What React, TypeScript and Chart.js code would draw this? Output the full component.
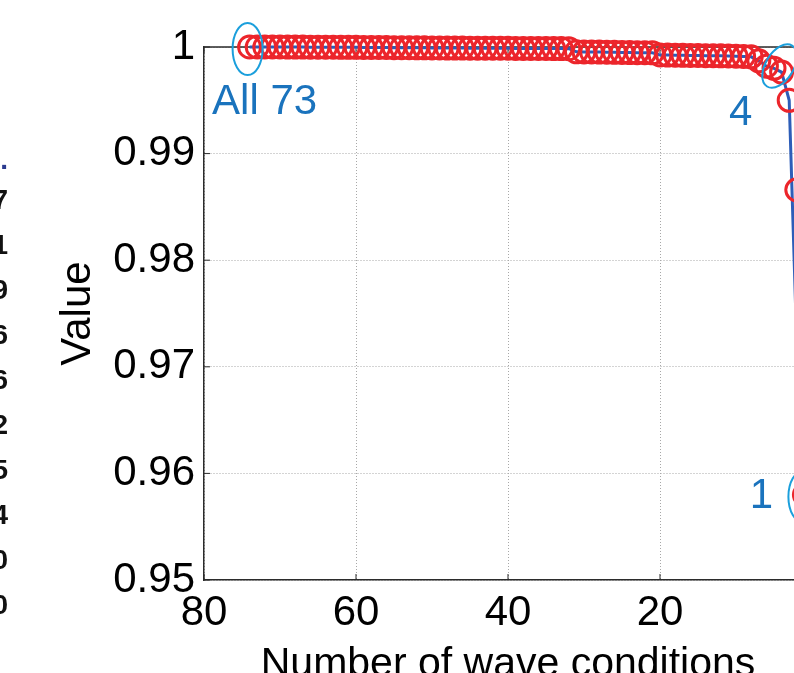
import React, { useEffect, useRef } from 'react';
import { Chart, registerables } from 'chart.js';

Chart.register(...registerables);

// ---------------- data ----------------
const waveConditions = [
  74, 73, 72, 71, 70, 69, 68, 67, 66, 65, 64, 63, 62, 61, 60, 59, 58, 57, 56, 55,
  54, 53, 52, 51, 50, 49, 48, 47, 46, 45, 44, 43, 42, 41, 40, 39, 38, 37, 36, 35,
  34, 33, 32, 31, 30, 29, 28, 27, 26, 25, 24, 23, 22, 21, 20, 19, 18, 17, 16, 15,
  14, 13, 12, 11, 10, 9, 8, 7, 6, 5, 4, 3, 2, 1,
];

const circleValues = [
  1.0, 1.0, 1.0, 1.0, 1.0, 0.99999, 0.99999, 0.99999, 0.99998, 0.99998,
  0.99998, 0.99998, 0.99997, 0.99997, 0.99997, 0.99996, 0.99996, 0.99995, 0.99995, 0.99994,
  0.99993, 0.99993, 0.99992, 0.99992, 0.99991, 0.99991, 0.9999, 0.9999, 0.9999, 0.99989,
  0.99989, 0.99989, 0.99988, 0.99988, 0.99988, 0.99987, 0.99987, 0.99987, 0.99986, 0.99986,
  0.99985, 0.99985, 0.99984, 0.99955, 0.99954, 0.99953, 0.99952, 0.99951, 0.9995, 0.99949,
  0.99948, 0.99947, 0.99946, 0.99945, 0.99925, 0.99924, 0.99923, 0.99922, 0.99921, 0.9992,
  0.99919, 0.99918, 0.99917, 0.99916, 0.99914, 0.99912, 0.99908, 0.9987, 0.9982, 0.998,
  0.99765, 0.995, 0.9866, 0.958,
];

const lineValues = [
  1.0, 1.0, 1.0, 1.0, 1.0, 0.99999, 0.99999, 0.99999, 0.99998, 0.99998,
  0.99998, 0.99998, 0.99997, 0.99997, 0.99997, 0.99996, 0.99996, 0.99995, 0.99995, 0.99994,
  0.99993, 0.99993, 0.99992, 0.99992, 0.99991, 0.99991, 0.9999, 0.9999, 0.9999, 0.99989,
  0.99989, 0.99989, 0.99988, 0.99988, 0.99988, 0.99987, 0.99987, 0.99987, 0.99986, 0.99986,
  0.99985, 0.99985, 0.99984, 0.99955, 0.99954, 0.99953, 0.99952, 0.99951, 0.9995, 0.99949,
  0.99948, 0.99947, 0.99946, 0.99945, 0.99925, 0.99924, 0.99923, 0.99922, 0.99921, 0.9992,
  0.99919, 0.99918, 0.99917, 0.99916, 0.99914, 0.99912, 0.99908, 0.9987, 0.9982, 0.998,
  0.99765, 0.995, 0.972, 0.958,
];

const xTickValues = [0, 20, 40, 60, 80];
const yTickValues = [0.95, 0.96, 0.97, 0.98, 0.99, 1.0];

const calloutLabels = ['All 73', '4', '1'];
const calloutConditions = [74, 4, 1];

// fragments of a neighbouring table, cut by the left edge of the picture
const tableHeaderTail = '.';
const tableLastDigits = ['7', '1', '9', '6', '6', '2', '5', '4', '0', '0'];

// ---------------- style ----------------
const FONT = 'Arial, "Liberation Sans", Helvetica, sans-serif';
const RED = '#ec252b';
const BLUE = '#2d5db8';
const CYAN = '#1b9fdc';
const TEXT_BLUE = '#1a73bd';
const AXIS = '#2b2b2b';
const GRID = '#a8a8a8';

const calloutStyle = [
  { tx: 15, ty: 55, ex: -2, ey: 2, rx: 15, ry: 26, rot: 0 },
  { tx: -41, ty: 41, ex: -2, ey: -6, rx: 14, ry: 24, rot: 0.55 },
  { tx: -43, ty: 2, ex: -1, ey: 2, rx: 15, ry: 26, rot: 0 },
];

const framePlugin = {
  id: 'frameAndCallouts',
  beforeDatasetsDraw(chart: any) {
    const { ctx, chartArea: a, scales } = chart;
    ctx.save();
    ctx.strokeStyle = AXIS;
    ctx.lineWidth = 1.5;
    ctx.beginPath();
    ctx.moveTo(a.left, a.top);
    ctx.lineTo(a.right, a.top);
    ctx.lineTo(a.right, a.bottom);
    ctx.stroke();
    ctx.lineWidth = 1;
    ctx.beginPath();
    for (const t of xTickValues) {
      const px = scales.x.getPixelForValue(t);
      ctx.moveTo(px, a.bottom);
      ctx.lineTo(px, a.bottom - 6);
      ctx.moveTo(px, a.top);
      ctx.lineTo(px, a.top + 6);
    }
    for (const t of yTickValues) {
      const py = scales.y.getPixelForValue(t);
      ctx.moveTo(a.left, py);
      ctx.lineTo(a.left + 6, py);
      ctx.moveTo(a.right, py);
      ctx.lineTo(a.right - 6, py);
    }
    ctx.stroke();
    ctx.restore();
  },
  afterDatasetsDraw(chart: any) {
    const { ctx, scales } = chart;
    ctx.save();
    calloutLabels.forEach((label, i) => {
      const cond = calloutConditions[i];
      const idx = waveConditions.indexOf(cond);
      const px = scales.x.getPixelForValue(cond);
      const py = scales.y.getPixelForValue(circleValues[idx]);
      const s = calloutStyle[i];
      ctx.strokeStyle = CYAN;
      ctx.lineWidth = 2;
      ctx.beginPath();
      ctx.ellipse(px + s.ex, py + s.ey, s.rx, s.ry, s.rot, 0, Math.PI * 2);
      ctx.stroke();
      ctx.fillStyle = TEXT_BLUE;
      ctx.font = `42px ${FONT}`;
      ctx.textAlign = 'center';
      ctx.textBaseline = 'middle';
      ctx.fillText(label, px + s.tx, py + s.ty);
    });
    ctx.restore();
  },
};

export default function App() {
  const canvasRef = useRef<HTMLCanvasElement | null>(null);

  useEffect(() => {
    const canvas = canvasRef.current;
    if (!canvas) return;
    Chart.defaults.font.family = FONT;
    const chart = new Chart(canvas, {
      type: 'scatter',
      data: {
        datasets: [
          {
            label: 'Circles',
            data: waveConditions.map((x, i) => ({ x, y: circleValues[i] })),
            showLine: false,
            pointStyle: 'circle',
            pointRadius: 11,
            pointBorderWidth: 3,
            pointBorderColor: RED,
            pointBackgroundColor: 'rgba(0,0,0,0)',
            borderColor: RED,
            backgroundColor: 'rgba(0,0,0,0)',
            clip: false as any,
            order: 0,
          },
          {
            label: 'Line',
            data: waveConditions.map((x, i) => ({ x, y: lineValues[i] })),
            showLine: true,
            pointRadius: 0,
            borderColor: BLUE,
            borderWidth: 3,
            tension: 0,
            clip: false as any,
            order: 1,
          },
        ],
      },
      options: {
        animation: false,
        responsive: false,
        devicePixelRatio: 1,
        events: [],
        layout: { padding: { left: 0, top: 47, right: 48, bottom: 11 } },
        plugins: { legend: { display: false }, tooltip: { enabled: false } },
        scales: {
          x: {
            type: 'linear',
            min: 0,
            max: 80,
            reverse: true,
            afterFit: (s: any) => {
              s.height = 109;
            },
            afterBuildTicks: (s: any) => {
              s.ticks = xTickValues.map((v) => ({ value: v }));
            },
            ticks: {
              font: { family: FONT, size: 42 },
              color: '#000',
              padding: 8,
              maxRotation: 0,
              autoSkip: false,
              callback: (v: any) => String(v),
            },
            grid: { color: GRID, lineWidth: 1, drawTicks: false },
            border: { display: true, color: AXIS, width: 1.5, dash: [1, 2] },
            title: {
              display: true,
              text: 'Number of wave conditions',
              font: { family: FONT, size: 41 },
              color: '#000',
              padding: { top: 0, bottom: 0 },
            },
          },
          y: {
            type: 'linear',
            min: 0.95,
            max: 1,
            afterFit: (s: any) => {
              s.width = 204;
            },
            afterBuildTicks: (s: any) => {
              s.ticks = yTickValues.map((v) => ({ value: v }));
            },
            ticks: {
              font: { family: FONT, size: 42 },
              color: '#000',
              padding: 9,
              autoSkip: false,
              callback: (v: any) => String(+Number(v).toFixed(2)),
            },
            grid: { color: GRID, lineWidth: 1, drawTicks: false },
            border: { display: true, color: AXIS, width: 1.5, dash: [1, 2] },
            title: {
              display: true,
              text: 'Value',
              font: { family: FONT, size: 42 },
              color: '#000',
              padding: { top: 53, bottom: 0 },
            },
          },
        },
      },
      plugins: [framePlugin],
    } as any);
    return () => chart.destroy();
  }, []);

  return (
    <div
      style={{
        position: 'fixed',
        left: 0,
        top: 0,
        width: 794,
        height: 673,
        overflow: 'hidden',
        background: '#fff',
      }}
    >
      <canvas
        ref={canvasRef}
        width={860}
        height={700}
        style={{ position: 'absolute', left: 0, top: 0, width: 860, height: 700 }}
      />
      <div
        style={{
          position: 'absolute',
          left: -40,
          width: 48,
          top: 146,
          textAlign: 'right',
          font: `bold 28px ${FONT}`,
          lineHeight: '28px',
          color: '#2b3a8f',
        }}
      >
        {tableHeaderTail}
      </div>
      {tableLastDigits.map((d, i) => (
        <div
          key={i}
          style={{
            position: 'absolute',
            left: -40,
            width: 48,
            top: 200 + i * 45 - 14,
            textAlign: 'right',
            font: `bold 28px ${FONT}`,
            lineHeight: '28px',
            color: '#111',
          }}
        >
          {d}
        </div>
      ))}
    </div>
  );
}
